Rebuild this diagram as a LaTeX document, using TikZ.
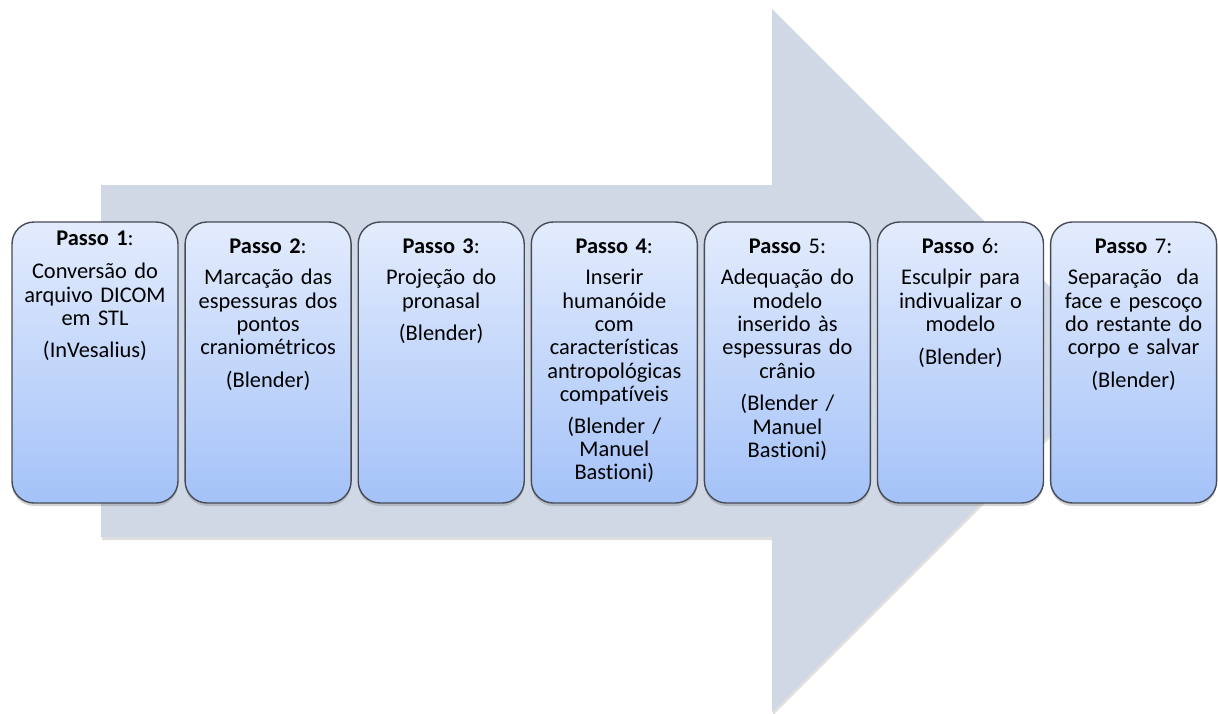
\documentclass[tikz,border=0pt]{standalone}
\usepackage{fontspec}
\setmainfont{Carlito}[Ligatures=NoCommon]
\usetikzlibrary{shadows}
\definecolor{arrowc}{RGB}{208,215,229}
\definecolor{boxtop}{RGB}{227,236,253}
\definecolor{boxbot}{RGB}{164,194,248}
\definecolor{boxline}{RGB}{70,75,85}
\tikzset{
  stepbox/.style={draw=boxline, line width=1.4pt, rounded corners=22pt,
    top color=boxtop, bottom color=boxbot,
    minimum width=166pt, minimum height=281pt, inner sep=0pt,
    drop shadow={shadow xshift=0pt, shadow yshift=-3pt, opacity=0.35}},
  steptxt/.style={font=\fontsize{22.4}{23.3}\selectfont, text width=166pt,
    align=center, inner sep=0pt, anchor=base, text=black},
  bigarrow/.style={fill=arrowc,
    drop shadow={shadow xshift=1pt, shadow yshift=-3pt, opacity=0.25}},
}
\begin{document}
\begin{tikzpicture}[x=1pt,y=-1pt]
\useasboundingbox (0,0) rectangle (1218,713);
\path[bigarrow] (101,185) -- (772,185) -- (772,9) -- (1123.5,360.5)
  -- (772,712) -- (772,537) -- (101,537) -- cycle;

\node[stepbox] (b1) at (95,362.5) {};
\node[stepbox] (b2) at (268.1,362.5) {};
\node[stepbox] (b3) at (441.2,362.5) {};
\node[stepbox] (b4) at (614.3,362.5) {};
\node[stepbox] (b5) at (787.4,362.5) {};
\node[stepbox] (b6) at (960.5,362.5) {};
\node[stepbox] (b7) at (1133.6,362.5) {};

\node[steptxt] (t1) at (95,245.5) {\textbf{Passo 1}:\\[10pt]
  Conversão do\\ arquivo DICOM\\ em STL\\[9pt] (InVesalius)};
\node[steptxt] (t2) at (268.1,253) {\textbf{Passo 2}:\\[8.6pt]
  Marcação das\\ espessuras dos\\ pontos\\ craniométricos\\[9pt] (Blender)};
\node[steptxt] (t3) at (441.2,253) {\textbf{Passo 3}:\\[8.6pt]
  Projeção do\\ pronasal\\[8.5pt] (Blender)};
\node[steptxt] (t4) at (614.3,253) {\textbf{Passo 4}:\\[8.6pt]
  Inserir\\ humanóide\\ com\\ características\\ antropológicas\\ compatíveis\\[8.5pt]
  (Blender /\\ Manuel\\ Bastioni)};
\node[steptxt] (t5) at (787.4,253) {\textbf{Passo} 5:\\[8.6pt]
  Adequação do\\ modelo\\ inserido às\\ espessuras do\\ crânio\\[9.5pt]
  (Blender /\\ Manuel\\ Bastioni)};
\node[steptxt] (t6) at (960.5,253) {\textbf{Passo} 6:\\[8.6pt]
  Esculpir para\\ indivualizar o\\ modelo\\[9.5pt] (Blender)};
\node[steptxt] (t7) at (1133.6,253) {\textbf{Passo} 7:\\[8.6pt]
  Separação~ da\\ face e pescoço\\ do restante do\\ corpo e salvar\\[9pt] (Blender)};
\end{tikzpicture}
\end{document}
